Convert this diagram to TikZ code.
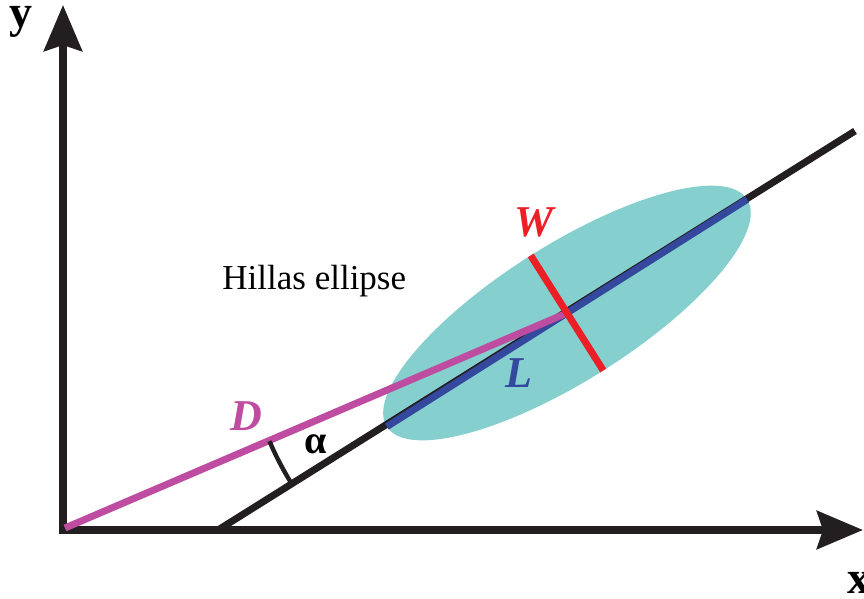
\documentclass[tikz,border=0pt]{standalone}
\usepackage{fontspec}
\setmainfont{Liberation Serif}
\usetikzlibrary{arrows.meta}
\definecolor{ellcyan}{RGB}{133,208,206}
\definecolor{lenblue}{RGB}{52,72,158}
\definecolor{distmag}{RGB}{190,76,160}
\definecolor{widred}{RGB}{236,30,38}
\definecolor{linegray}{RGB}{35,31,32}
\begin{document}
\begin{tikzpicture}[x=0.5pt,y=-0.5pt,
  axis/.style={line width=3.7pt,color=linegray,
    {Stealth[length=23pt,width=19pt,inset=3pt]}-{Stealth[length=23pt,width=19pt,inset=3pt]}},
  seg/.style={line width=3.5pt},
  lbl/.style={inner sep=0pt,anchor=base,font=\fontsize{22}{24}\selectfont\bfseries\itshape}]
  \useasboundingbox (0,0) rectangle (864,599);
  % main points
  \coordinate (O) at (63,530);
  \coordinate (C) at (567,313);
  \coordinate (ytip) at (63,5);
  \coordinate (xtip) at (863,530);
  \coordinate (s) at (218,530);
  \coordinate (e) at (855,131);
  % ellipse and its axes
  \fill[ellcyan,rotate around={32.23:(C)}] (C) ellipse [x radius=106.5pt,y radius=34pt];
  \draw[seg,linegray] (s) -- (e);
  \coordinate (La) at ([shift={(212.23:106.5pt)}]C);
  \coordinate (Lb) at ([shift={(32.23:106.5pt)}]C);
  \coordinate (Wa) at ([shift={(122.23:34pt)}]C);
  \coordinate (Wb) at ([shift={(-57.77:34pt)}]C);
  \draw[seg,lenblue] (La) -- (Lb);
  % axes
  \draw[axis] (ytip) -- (O) -- (xtip);
  \draw[seg,distmag] (65,528) -- (C);
  \draw[seg,widred] (Wa) -- (Wb);
  % angle alpha
  \draw[line width=2.2pt,linegray] ([shift={(203.3:162pt)}]C) arc[start angle=203.3,end angle=212.23,radius=162pt];
  % labels
  \node[inner sep=0pt,anchor=base,font=\fontsize{23}{25}\selectfont\bfseries] (ylab) at (21,28) {y};
  \node[inner sep=0pt,anchor=base,font=\fontsize{23}{25}\selectfont\bfseries] (xlab) at (859,593) {x};
  \node[inner sep=0pt,anchor=base west,font=\fontsize{17.5}{20}\selectfont] (hill) at (222,290) {Hillas ellipse};
  \node[lbl,distmag] (dlab) at (246,430) {D};
  \node[lbl,widred] (wlab) at (534,237) {W};
  \node[lbl,lenblue] (llab) at (519,387) {L};
  \node[inner sep=0pt,anchor=base,font=\fontsize{20}{22}\selectfont\bfseries] (alab) at (316,453) {α};
\end{tikzpicture}
\end{document}
